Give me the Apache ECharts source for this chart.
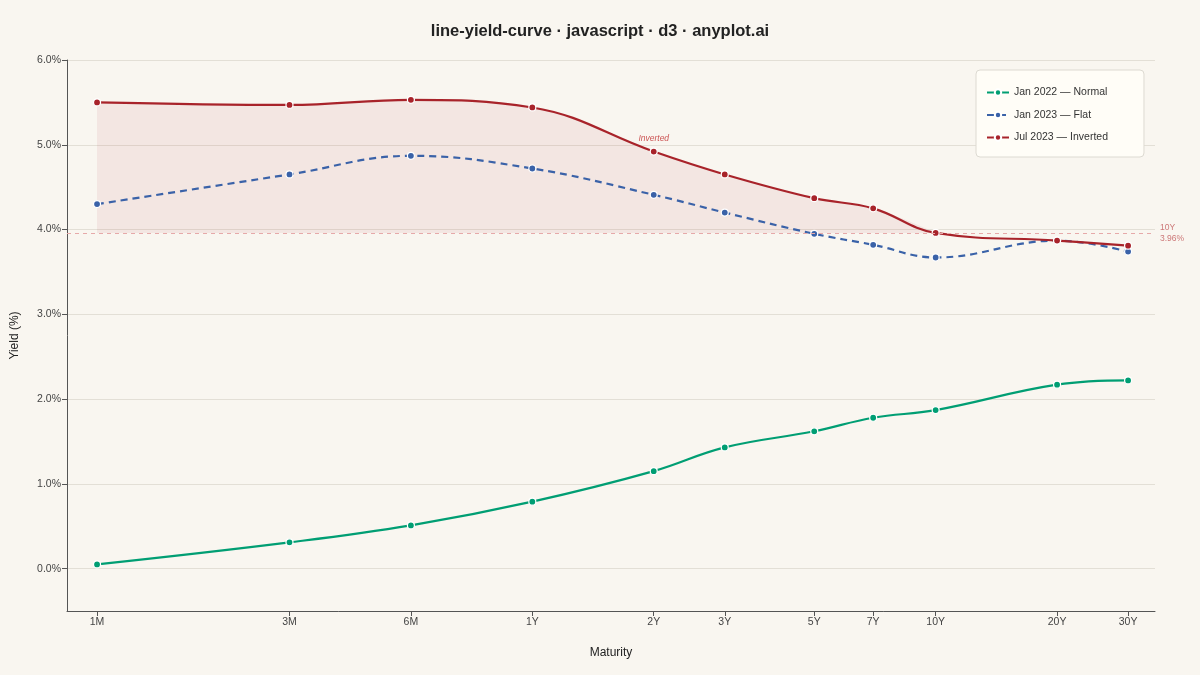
<!DOCTYPE html>
<html>
<head>
<meta charset="utf-8">
<script src="https://cdn.jsdelivr.net/npm/echarts@6/dist/echarts.min.js"></script>
<style>
  html, body { margin: 0; padding: 0; background: #f9f6f0; }
  #chart { width: 1200px; height: 675px; }
</style>
</head>
<body>
<div id="chart"></div>
<script>
// maturities in years + labels
const maturityLabels = ['1M', '3M', '6M', '1Y', '2Y', '3Y', '5Y', '7Y', '10Y', '20Y', '30Y'];
const maturityYears = [1 / 12, 0.25, 0.5, 1, 2, 3, 5, 7, 10, 20, 30];

const normal2022 = [0.05, 0.31, 0.51, 0.79, 1.15, 1.43, 1.62, 1.78, 1.87, 2.17, 2.22];
const flat2023 = [4.30, 4.65, 4.87, 4.72, 4.41, 4.20, 3.95, 3.82, 3.67, 3.87, 3.74];
const inverted2023 = [5.50, 5.47, 5.53, 5.44, 4.92, 4.65, 4.37, 4.25, 3.96, 3.87, 3.81];

const yTicks = [0, 1, 2, 3, 4, 5, 6];
const ref10Y = 3.96;

const pair = vals => vals.map((v, i) => [maturityYears[i], v]);

const labelFor = v => {
  const i = maturityYears.findIndex(m => Math.abs(m - v) / m < 0.01);
  return i >= 0 ? maturityLabels[i] : '';
};

const chart = echarts.init(document.getElementById('chart'));
const font = 'Liberation Sans, Arial, sans-serif';
const SMOOTH = 0.4;

const lineSeries = (name, vals, color, dashed) => ({
  name: name,
  type: 'line',
  data: pair(vals),
  smooth: SMOOTH,
  symbol: 'circle',
  symbolSize: 7,
  itemStyle: { color: color, borderColor: '#ffffff', borderWidth: 1.2 },
  lineStyle: { color: color, width: 2.2, type: dashed ? [7, 5] : 'solid' },
  emphasis: { disabled: true },
  z: 3
});

const inv = lineSeries('Jul 2023 — Inverted', inverted2023, '#a8232a', false);
inv.markLine = {
  silent: true,
  symbol: 'none',
  lineStyle: { color: '#e6a9a9', type: [4, 4], width: 1.2 },
  label: {
    position: 'end',
    formatter: '10Y\n' + ref10Y.toFixed(2) + '%',
    color: '#cc7777',
    fontSize: 8.5,
    fontFamily: font,
    lineHeight: 11,
    align: 'left',
    distance: 5
  },
  data: [{ yAxis: ref10Y }]
};
inv.markPoint = {
  silent: true,
  symbol: 'circle',
  symbolSize: 0,
  label: {
    show: true,
    formatter: 'Inverted',
    color: '#cc5555',
    fontStyle: 'italic',
    fontSize: 8.5,
    fontFamily: font,
    offset: [0, -13]
  },
  data: [{ coord: [maturityYears[4], inverted2023[4]] }]
};

const option = {
  backgroundColor: '#f9f6f0',
  animation: false,
  textStyle: { fontFamily: font },
  title: {
    text: 'line-yield-curve · javascript · d3 · anyplot.ai',
    left: 'center',
    top: 18,
    textStyle: { fontSize: 16.5, fontWeight: 'bold', color: '#222', fontFamily: font }
  },
  legend: {
    orient: 'vertical',
    left: 976,
    top: 70,
    padding: [17, 36, 14, 10],
    itemWidth: 22,
    itemHeight: 8,
    itemGap: 11.5,
    backgroundColor: '#fffdf7',
    borderColor: '#dddad2',
    borderWidth: 1,
    borderRadius: 4,
    textStyle: { fontSize: 10.5, color: '#333', fontFamily: font },
    data: ['Jan 2022 — Normal', 'Jan 2023 — Flat', 'Jul 2023 — Inverted']
  },
  grid: { left: 67, right: 45, top: 60, bottom: 64, outerBoundsMode: 'none', containLabel: false },
  xAxis: {
    type: 'log',
    logBase: 10,
    min: 0.0702,
    max: 34.98,
    name: 'Maturity',
    nameLocation: 'middle',
    nameGap: 36,
    nameTextStyle: { fontSize: 12, color: '#222', fontFamily: font },
    axisLine: { onZero: false, lineStyle: { color: '#555' } },
    axisTick: { show: true, length: 5, lineStyle: { color: '#555' }, customValues: maturityYears },
    axisLabel: {
      customValues: maturityYears,
      formatter: v => labelFor(v),
      fontSize: 10.5,
      color: '#444',
      margin: 6
    },
    splitLine: { show: false },
    minorTick: { show: false },
    minorSplitLine: { show: false }
  },
  yAxis: {
    type: 'value',
    min: -0.5,
    max: 6,
    name: 'Yield (%)',
    nameLocation: 'middle',
    nameGap: 46,
    nameRotate: 90,
    nameTextStyle: { fontSize: 12, color: '#222', fontFamily: font },
    axisLine: { show: true, onZero: false, lineStyle: { color: '#555' } },
    axisTick: { show: true, length: 5, lineStyle: { color: '#555' }, customValues: yTicks },
    axisLabel: {
      customValues: yTicks,
      formatter: v => v.toFixed(1) + '%',
      fontSize: 10.5,
      color: '#444',
      margin: 6
    },
    splitLine: { show: true, lineStyle: { color: '#e3dfd6', width: 1 } }
  },
  series: [
    {
      name: 'inversion-area',
      type: 'line',
      data: pair(inverted2023.slice(0, 9)),
      smooth: SMOOTH,
      symbol: 'none',
      lineStyle: { width: 0 },
      areaStyle: { color: 'rgba(168,35,42,0.10)', origin: ref10Y },
      silent: true,
      z: 1
    },
    lineSeries('Jan 2022 — Normal', normal2022, '#009e73', false),
    lineSeries('Jan 2023 — Flat', flat2023, '#3a62a8', true),
    inv
  ]
};

chart.setOption(option);
</script>
</body>
</html>
